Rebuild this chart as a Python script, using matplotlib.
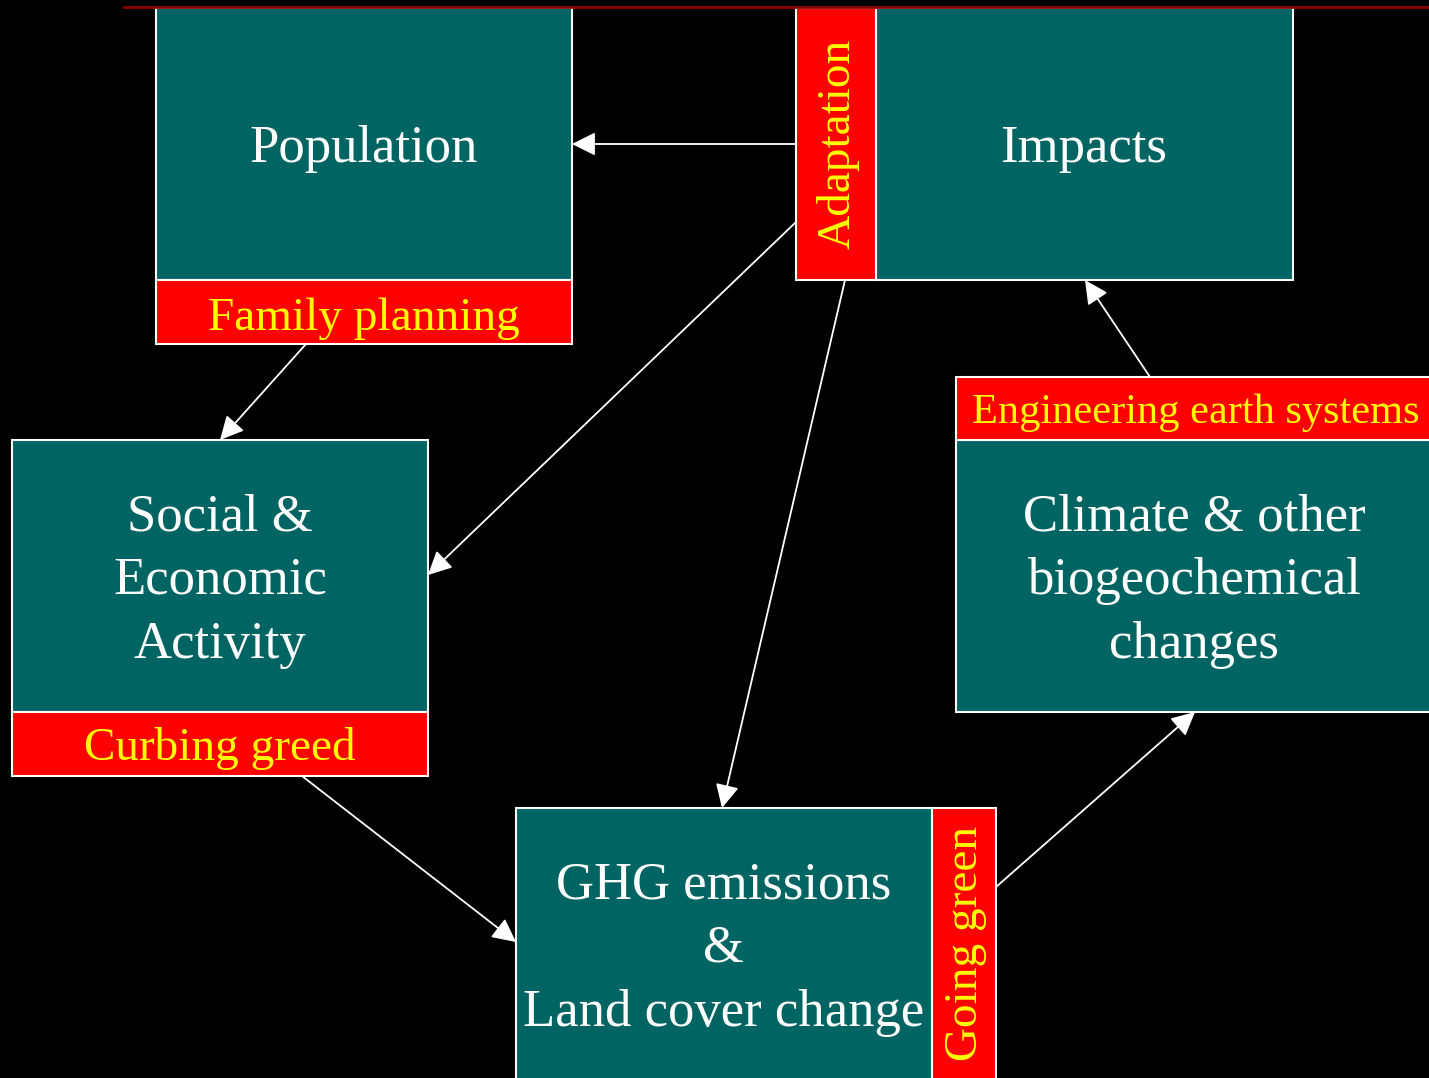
import matplotlib.pyplot as plt
from matplotlib.patches import Rectangle

# boxes: (x, y, w, h) in pixel coords, y down
main_boxes = {
    "Population": (156, 8, 416, 272),
    "Impacts": (876, 8, 417, 272),
    "Social &\nEconomic\nActivity": (12, 440, 416, 272),
    "GHG emissions\n&\nLand cover change": (516, 808, 416, 290),
    "Climate & other\nbiogeochemical\nchanges": (956, 440, 490, 272),
}
main_text_pos = [(364, 149), (1084, 149), (220, 581), (724, 949), (1194, 581)]

label_boxes = {
    "Family planning": (156, 280, 416, 64),
    "Adaptation": (796, 8, 80, 272),
    "Curbing greed": (12, 712, 416, 64),
    "Going green": (932, 808, 64, 290),
    "Engineering earth systems": (956, 377, 490, 63),
}
label_text_pos = [(364, 319), (838, 144), (220, 749), (966, 943), (1196, 413)]
label_rot = [0, 90, 0, 90, 0]
label_size = [34, 34, 34, 34, 30.5]

# arrows: (start, end)
arrows = [
    ((796, 144), (572, 144)),
    ((796, 222), (428, 575)),
    ((845, 280), (722, 808)),
    ((306, 344), (220, 440)),
    ((302, 776), (516, 942)),
    ((996, 887), (1195, 712)),
    ((1150, 377), (1085, 280)),
]

teal = "#006462"
plt.rcParams['font.family'] = ['Liberation Serif', 'DejaVu Serif']

fig = plt.figure(figsize=(14.29, 10.78), dpi=100, facecolor="black")
ax = fig.add_axes([0, 0, 1, 1])
ax.set_facecolor("black")
ax.set_xlim(0, 1429)
ax.set_ylim(1078, 0)
ax.axis("off")

ax.plot([124, 1429], [7, 7], color="#8b0000", lw=2)

for (txt, (x, y, w, h)), (tx, ty) in zip(main_boxes.items(), main_text_pos):
    ax.add_patch(Rectangle((x, y), w, h, facecolor=teal, edgecolor="white", lw=1.5))
    ax.text(tx, ty, txt, color="white", fontsize=38, ha="center", va="center",
            linespacing=1.43)

for (txt, (x, y, w, h)), (tx, ty), rot, fs in zip(label_boxes.items(), label_text_pos,
                                                  label_rot, label_size):
    ax.add_patch(Rectangle((x, y), w, h, facecolor="red", edgecolor="white", lw=1.5))
    ax.text(tx, ty, txt, color="yellow", fontsize=fs, ha="center", va="center",
            rotation=rot)

for (x0, y0), (x1, y1) in arrows:
    ax.annotate("", xy=(x1, y1), xytext=(x0, y0),
                arrowprops=dict(arrowstyle="-|>,head_length=0.8,head_width=0.4",
                                mutation_scale=18, color="white", lw=1.3,
                                shrinkA=0, shrinkB=0))

fig.savefig("out.png", dpi=100, facecolor="black")
